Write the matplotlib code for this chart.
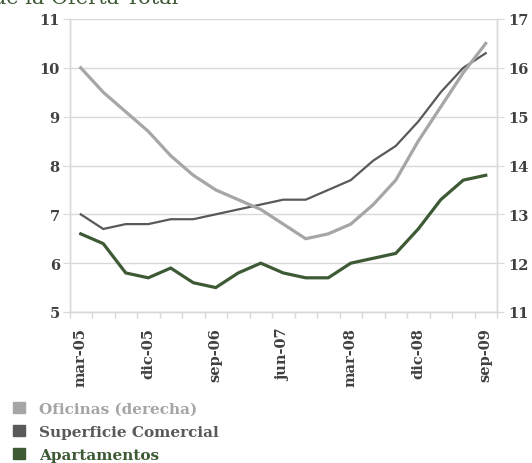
import matplotlib
matplotlib.use("Agg")
import matplotlib.pyplot as plt
from matplotlib.patches import Rectangle

plt.rcParams['font.family'] = ['DejaVu Serif']

# Quarterly periods, mar-05 .. sep-09
periods = ["mar-05", "jun-05", "sep-05", "dic-05", "mar-06", "jun-06", "sep-06",
           "dic-06", "mar-07", "jun-07", "sep-07", "dic-07", "mar-08", "jun-08",
           "sep-08", "dic-08", "mar-09", "jun-09", "sep-09"]

# Right axis series
oficinas = [16.0, 15.5, 15.1, 14.7, 14.2, 13.8, 13.5, 13.3, 13.1, 12.8,
            12.5, 12.6, 12.8, 13.2, 13.7, 14.5, 15.2, 15.9, 16.5]
# Left axis series
superficie = [7.0, 6.7, 6.8, 6.8, 6.9, 6.9, 7.0, 7.1, 7.2, 7.3,
              7.3, 7.5, 7.7, 8.1, 8.4, 8.9, 9.5, 10.0, 10.3]
apartamentos = [6.6, 6.4, 5.8, 5.7, 5.9, 5.6, 5.5, 5.8, 6.0, 5.8,
                5.7, 5.7, 6.0, 6.1, 6.2, 6.7, 7.3, 7.7, 7.8]

labels_shown = ["mar-05", "dic-05", "sep-06", "jun-07", "mar-08", "dic-08", "sep-09"]
left_ticks = [5, 6, 7, 8, 9, 10, 11]
right_ticks = [11, 12, 13, 14, 15, 16, 17]

series_names = ["Oficinas (derecha)", "Superficie Comercial", "Apartamentos"]
c_ofi = "#a6a6a6"
c_sup = "#595959"
c_apt = "#3d5a35"
grid_c = "#d9d9d9"
text_c = "#404040"

W, H = 532, 464
fig = plt.figure(figsize=(W / 100, H / 100), dpi=100)
fig.patch.set_facecolor("white")

x0, x1, ytop, ybot = 69.5, 497, 20, 313
ax = fig.add_axes([x0 / W, 1 - ybot / H, (x1 - x0) / W, (ybot - ytop) / H])
ax2 = ax.twinx()

n = len(periods)
xs = list(range(n))

ax.plot(xs, apartamentos, color=c_apt, lw=2.3, solid_joinstyle="miter", zorder=3)
ax.plot(xs, superficie, color=c_sup, lw=1.6, solid_joinstyle="miter", zorder=3)
ax2.plot(xs, oficinas, color=c_ofi, lw=2.3, solid_joinstyle="miter", zorder=3)

ax.set_xlim(-0.5, n - 0.5)
ax.set_ylim(5, 11)
ax2.set_ylim(11, 17)

ax.set_yticks(left_ticks)
ax.set_yticklabels([str(v) for v in left_ticks])
ax2.set_yticks(right_ticks)
ax2.set_yticklabels([str(v) for v in right_ticks])

# Category ticks between points, labels every third period
ax.set_xticks([i - 0.5 for i in range(n + 1)], minor=False)
ax.set_xticklabels([])
ax.set_xticks([periods.index(p) for p in labels_shown], minor=True)
ax.set_xticklabels(labels_shown, minor=True, rotation=90, fontsize=10.5,
                   color=text_c, va="top")
ax.tick_params(axis="x", which="minor", length=0, pad=11)
ax.tick_params(axis="x", which="major", length=4, color=grid_c, width=1)

ax.grid(axis="y", color=grid_c, lw=1)
ax.set_axisbelow(True)

for a in (ax, ax2):
    for s in a.spines.values():
        s.set_color(grid_c)
        s.set_linewidth(1)
    a.spines["top"].set_visible(False)

ax.tick_params(axis="y", length=5, color=grid_c, labelsize=10.5, labelcolor=text_c, pad=2)
ax2.tick_params(axis="y", length=5, color=grid_c, labelsize=10.5, labelcolor=text_c, pad=3)
for lbl in ax.get_yticklabels() + ax2.get_yticklabels():
    lbl.set_fontweight("bold")
for lbl in ax.get_xticklabels(minor=True):
    lbl.set_fontweight("bold")

# Title (runs past the top edge of the figure)
fig.text(178 / W, 1 - 4 / H, "de la Oferta Total", ha="right", va="baseline",
         fontsize=15, color=c_apt)

# Legend stacked below the plot
leg_colors = [c_ofi, c_sup, c_apt]
leg_y = [408.5, 431.5, 454.5]
for name, col, yy in zip(series_names, leg_colors, leg_y):
    fig.patches.append(Rectangle((13 / W, 1 - (yy + 5.5) / H), 12 / W, 11 / H,
                                 transform=fig.transFigure, color=col))
    fig.text(39 / W, 1 - yy / H, name, ha="left", va="center_baseline",
             fontsize=11, fontweight="bold", color=col)

fig.savefig("out.png", dpi=100)
